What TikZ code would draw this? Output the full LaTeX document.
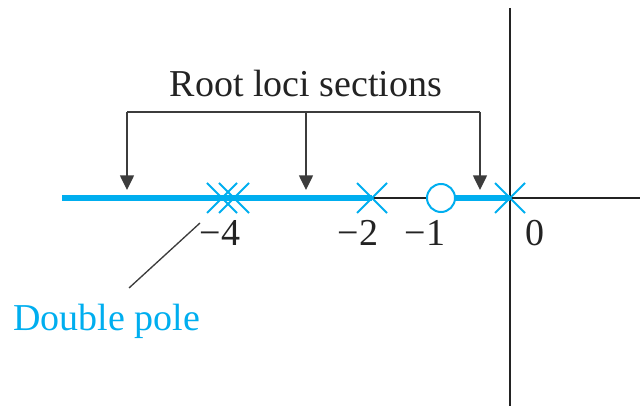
\documentclass[tikz,border=0pt]{standalone}
\usepackage{fontspec}
\setmainfont{Liberation Serif}
\usetikzlibrary{arrows.meta,shapes.misc}
\definecolor{locus}{RGB}{0,174,239}
\definecolor{ink}{RGB}{35,35,35}
\definecolor{leader}{RGB}{60,60,60}
\begin{document}
\begin{tikzpicture}[x=0.75pt,y=-0.75pt,
  lbl/.style={font=\fontsize{28.5}{32}\selectfont, text=ink, inner sep=0pt, anchor=base},
  pole/.style={cross out, draw=locus, line width=1.5pt, minimum size=21pt, inner sep=0pt},
  zeromark/.style={circle, draw=locus, fill=white, line width=1.5pt, minimum size=21pt, inner sep=0pt},
  pointer/.style={draw=leader, line width=1.1pt, -{Triangle[width=10.5pt,length=11pt]}},
  axisline/.style={draw=ink, line width=1.5pt},
  locusline/.style={draw=locus, line width=4.5pt}]
\useasboundingbox (0,0) rectangle (640,406);

% axes
\coordinate (imtop) at (510,8);
\coordinate (imbot) at (510,406);
\coordinate (reright) at (640,198);
\coordinate (releft) at (62,198);
\draw[axisline] (imtop) -- (imbot);
\draw[axisline] (releft) -- (reright);

% poles and zero positions
\coordinate (pm4a) at (222,198);
\coordinate (pm4b) at (234,198);
\coordinate (pm2) at (372,198);
\coordinate (zm1) at (441,198);
\coordinate (p0) at (510,198);

% real-axis root locus segments
\draw[locusline] (releft) -- (pm2);
\draw[locusline] (zm1) -- (p0);

% markers
\node[pole] (x4a) at (pm4a) {};
\node[pole] (x4b) at (pm4b) {};
\node[pole] (x2) at (pm2) {};
\node[pole] (x0) at (p0) {};
\node[zeromark] (z1) at (zm1) {};

% tick labels
\node[lbl] (l4) at (220,246) {−4};
\node[lbl] (l2) at (358,246) {−2};
\node[lbl] (l1) at (425,246) {−1};
\node[lbl] (l0) at (535,246) {0};

% section annotation
\node[lbl] (title) at (306,97) {Root loci sections};
\coordinate (bl) at (127,112);
\coordinate (bm) at (306,112);
\coordinate (br) at (480,112);
\coordinate (al) at (127,190);
\coordinate (am) at (306,190);
\coordinate (ar) at (480,190);
\draw[draw=leader, line width=1.1pt] (al |- bl) -- (br);
\draw[pointer] (bl) -- (al);
\draw[pointer] (bm) -- (am);
\draw[pointer] (br) -- (ar);

% double pole callout
\node[lbl, text=locus, anchor=base west] (dp) at (13,331) {Double pole};
\coordinate (leadA) at (200,223);
\coordinate (leadB) at (129,288);
\draw[draw=leader, line width=1pt] (leadA) -- (leadB);
\end{tikzpicture}
\end{document}
